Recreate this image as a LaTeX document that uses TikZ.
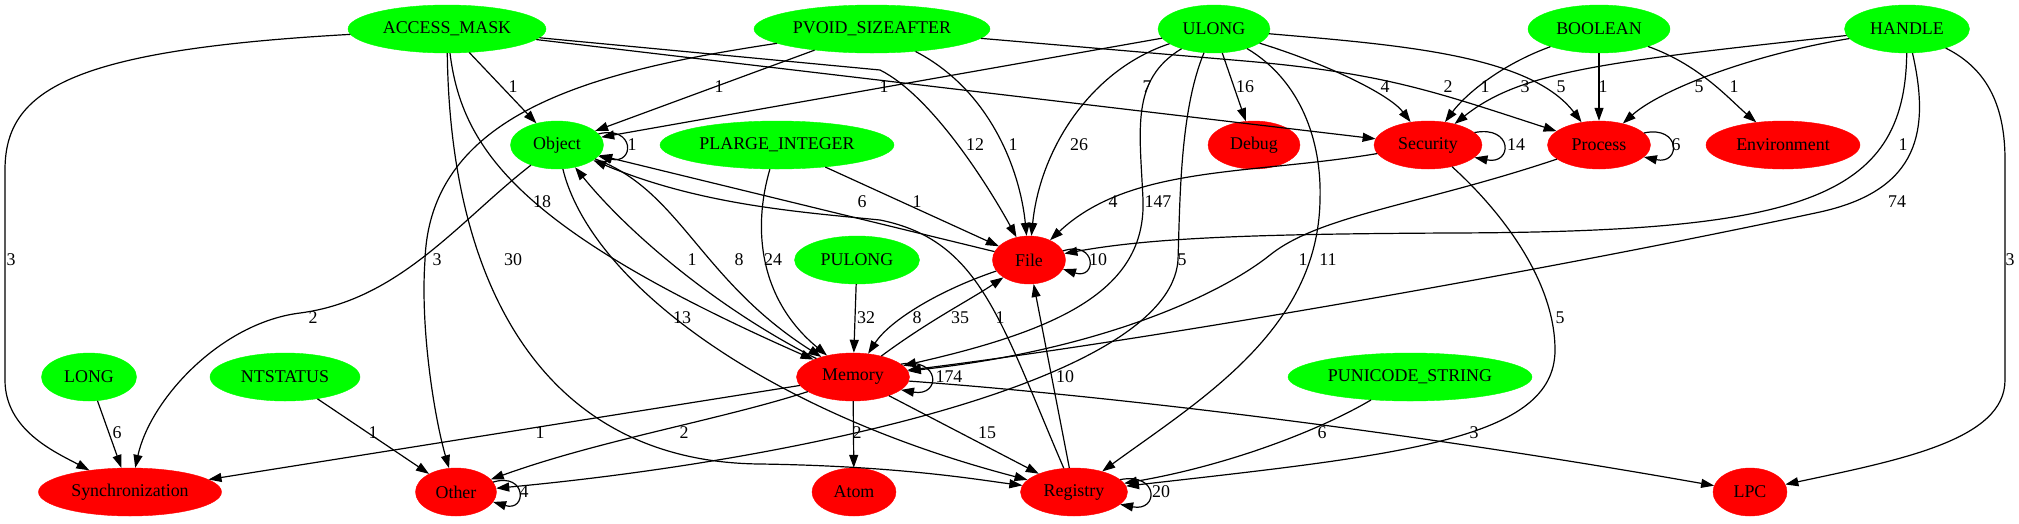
\documentclass[tikz,border=0pt]{standalone}
\usepackage{fontspec}
\setmainfont{Liberation Serif}
\usepackage{tikz}
\usetikzlibrary{shapes.geometric,arrows.meta}

\definecolor{typegreen}{RGB}{0,255,0}
\definecolor{catred}{RGB}{255,0,0}

\tikzset{
  argtype/.style={ellipse, fill=typegreen, draw=typegreen, inner sep=0pt, minimum height=48pt},
  category/.style={ellipse, fill=catred, draw=catred, inner sep=0pt, minimum height=48pt},
  link/.style={line width=1.2pt, -{Triangle[length=13pt,width=9pt]}},
  lbl/.style={inner sep=0pt}
}

\begin{document}
\begin{tikzpicture}[x=1pt, y=-1pt, every node/.style={font=\fontsize{17.9pt}{20pt}\selectfont}]
    \useasboundingbox (0,0) rectangle (2019,523);

    % Draw type nodes and category nodes, row by row
    \node[argtype, minimum width=198pt] (am) at (447,29) {ACCESS\_MASK};
    \node[argtype, minimum width=236pt] (pvoid) at (872,29) {PVOID\_SIZEAFTER};
    \node[argtype, minimum width=112pt] (ulong) at (1214,29) {ULONG};
    \node[argtype, minimum width=142pt] (bool) at (1599,29) {BOOLEAN};
    \node[argtype, minimum width=125pt] (handle) at (1907,29) {HANDLE};

    \node[argtype, minimum width=93pt] (obj) at (557,145) {Object};
    \node[argtype, minimum width=234pt] (plarge) at (777,145) {PLARGE\_INTEGER};
    \node[category, minimum width=92pt] (debug) at (1254,145) {Debug};
    \node[category, minimum width=108pt] (sec) at (1428,145) {Security};
    \node[category, minimum width=103pt] (proc) at (1599,145) {Process};
    \node[category, minimum width=154pt] (env) at (1783,145) {Environment};

    \node[argtype, minimum width=125pt] (pulong) at (857,260) {PULONG};
    \node[category, minimum width=73pt] (file) at (1029,260) {File};

    \node[argtype, minimum width=95pt] (long) at (89,377) {LONG};
    \node[argtype, minimum width=150pt] (ntstatus) at (285,377) {NTSTATUS};
    \node[category, minimum width=113pt] (mem) at (853,377) {Memory};
    \node[argtype, minimum width=244pt] (puni) at (1410,377) {PUNICODE\_STRING};

    \node[category, minimum width=183pt] (sync) at (130,492) {Synchronization};
    \node[category, minimum width=81pt] (other) at (456,492) {Other};
    \node[category, minimum width=84pt] (atom) at (854,492) {Atom};
    \node[category, minimum width=107pt] (reg) at (1074,492) {Registry};
    \node[category, minimum width=74pt] (lpc) at (1750,492) {LPC};

    % Edges from ACCESS_MASK
    \draw[link] (am) .. controls (70,50) and (5,90) .. (5,170) -- (5,380) .. controls (5,430) and (55,452) .. (sync);
    \draw[link] (am) -- (obj);
    \draw[link] (am) -- (880,70) .. controls (930,95) and (985,180) .. (file);
    \draw[link] (am) -- (sec);
    \draw[link] (am) .. controls (462,150) and (520,230) .. (mem);
    \draw[link] (am) .. controls (450,280) and (540,462) .. (760,464) .. controls (900,466) and (980,480) .. (reg);

    % Edges from PVOID_SIZEAFTER
    \draw[link] (pvoid) -- (obj);
    \draw[link] (pvoid) .. controls (600,70) and (430,110) .. (425,260) .. controls (420,330) and (435,420) .. (other);
    \draw[link] (pvoid) .. controls (990,90) and (1020,170) .. (file);
    \draw[link] (pvoid) -- (1233,60) .. controls (1380,72) and (1430,90) .. (proc);

    % Edges from ULONG
    \draw[link] (ulong) -- (obj);
    \draw[link] (ulong) .. controls (1090,70) and (1040,150) .. (file);
    \draw[link] (ulong) -- (debug);
    \draw[link] (ulong) .. controls (1330,65) and (1390,95) .. (sec);
    \draw[link] (ulong) .. controls (1400,45) and (1530,55) .. (proc);
    \draw[link] (ulong) .. controls (1130,80) and (1140,130) .. (1143,200) .. controls (1146,290) and (1060,330) .. (mem);
    \draw[link] (ulong) .. controls (1180,110) and (1180,200) .. (1178,260) .. controls (1170,380) and (800,460) .. (other);
    \draw[link] (ulong) .. controls (1300,80) and (1322,140) .. (1320,200) .. controls (1318,330) and (1200,400) .. (reg);

    % Edges from BOOLEAN and HANDLE
    \draw[link] (bool) .. controls (1500,65) and (1465,95) .. (sec);
    \draw[link] (bool) -- (proc);
    \draw[link] (bool) .. controls (1700,65) and (1730,100) .. (env);
    \draw[link] (handle) .. controls (1600,62) and (1520,72) .. (sec);
    \draw[link] (handle) .. controls (1750,55) and (1660,90) .. (proc);
    \draw[link] (handle) .. controls (1905,200) and (1800,232) .. (1450,233) .. controls (1250,234) and (1150,238) .. (file);
    \draw[link] (handle) .. controls (1930,130) and (1920,190) .. (1820,212) .. controls (1550,270) and (1150,340) .. (mem);
    \draw[link] (handle) .. controls (1990,70) and (2005,110) .. (2005,160) -- (2005,380) .. controls (2005,440) and (1900,460) .. (lpc);

    % Edges between the categories
    \draw[link] (obj) .. controls (460,220) and (400,300) .. (300,313) .. controls (220,323) and (150,400) .. (sync);
    \draw[link] (obj) .. controls (680,190) and (700,280) .. (mem);
    \draw[link] (mem) .. controls (720,310) and (630,235) .. (obj);
    \draw[link] (obj) .. controls (590,280) and (760,410) .. (reg);
    \draw[link] (plarge) -- (file);
    \draw[link] (plarge) .. controls (752,230) and (760,300) .. (mem);
    \draw[link] (file) -- (obj);
    \draw[link] (file) .. controls (940,290) and (890,320) .. (mem);
    \draw[link] (mem) .. controls (930,320) and (970,300) .. (file);
    \draw[link] (reg) -- (file);
    \draw[link] (reg) .. controls (1000,320) and (980,240) .. (880,220) .. controls (800,212) and (700,205) .. (obj);
    \draw[link] (sec) .. controls (1250,175) and (1130,165) .. (file);
    \draw[link] (sec) .. controls (1500,210) and (1555,280) .. (1555,350) .. controls (1555,440) and (1400,455) .. (reg);
    \draw[link] (proc) .. controls (1420,205) and (1320,215) .. (1270,255) .. controls (1220,295) and (1100,350) .. (mem);
    \draw[link] (pulong) -- (mem);
    \draw[link] (long) -- (sync);
    \draw[link] (ntstatus) -- (other);
    \draw[link] (mem) -- (sync);
    \draw[link] (mem) .. controls (720,420) and (600,440) .. (other);
    \draw[link] (mem) -- (atom);
    \draw[link] (mem) -- (reg);
    \draw[link] (mem) .. controls (1100,395) and (1400,430) .. (lpc);
    \draw[link] (puni) .. controls (1320,430) and (1230,465) .. (reg);

    % Self loops
    \draw[link] (obj.15) .. controls (635,125) and (635,165) .. (obj.-15);
    \draw[link] (file.15) .. controls (1097,240) and (1097,280) .. (file.-15);
    \draw[link] (sec.15) .. controls (1513,125) and (1513,165) .. (sec.-15);
    \draw[link] (proc.15) .. controls (1681,125) and (1681,165) .. (proc.-15);
    \draw[link] (mem.15) .. controls (941,357) and (941,397) .. (mem.-15);
    \draw[link] (reg.15) .. controls (1159,472) and (1159,512) .. (reg.-15);
    \draw[link] (other.15) .. controls (527,472) and (527,512) .. (other.-15);

    % Edge counts
    \foreach \x/\y/\t [count=\i] in {11/260/3, 513/87/1, 719/87/1, 884/87/1, 1147/87/7, 1245/87/16,
        1385/87/4, 1448/87/2, 1485/87/1, 1525/87/3, 1561/87/5, 1603/87/1, 1699/87/5, 1734/87/1,
        632/145/1, 975/145/12, 1013/145/1, 1079/145/26, 1516/145/14, 1676/145/6, 1903/145/1,
        542/202/18, 862/202/6, 917/202/1, 1113/202/4, 1158/202/147, 1897/202/74,
        437/260/3, 513/260/30, 692/260/1, 739/260/8, 773/260/24, 1098/260/10, 1182/260/5,
        1303/260/1, 1328/260/11, 2010/260/3,
        313/318/2, 682/318/13, 866/318/32, 917/318/8, 960/318/35, 1000/318/1, 1560/318/5,
        949/377/174, 1065/377/10,
        117/433/6, 373/433/1, 540/433/1, 684/433/2, 857/433/2, 987/433/15, 1322/433/6, 1474/433/3,
        524/492/4, 1161/492/20} {
        \node[lbl] (n\i) at (\x,\y) {\t};
    }
\end{tikzpicture}
\end{document}
